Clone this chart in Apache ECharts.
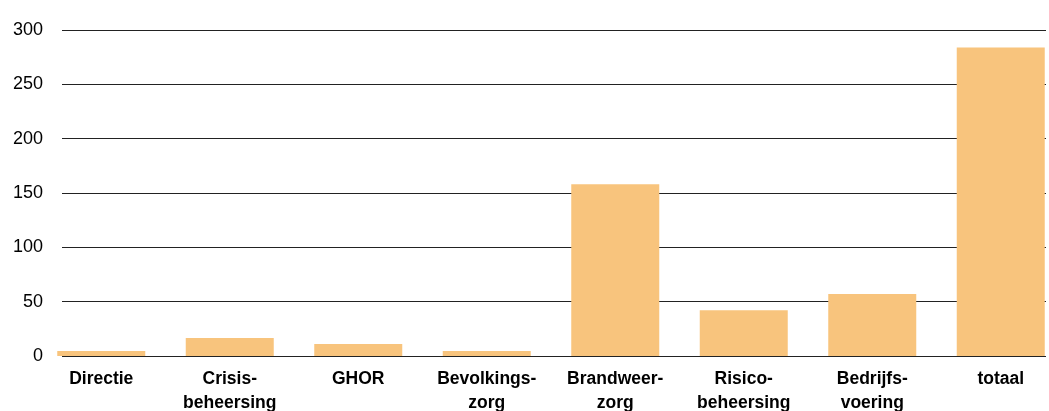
<!DOCTYPE html>
<html>
    <head>
        <meta charset="utf-8">
        <title>ECharts</title>
        <script src="https://cdn.jsdelivr.net/npm/echarts@6/dist/echarts.min.js"></script>
    </head>
    <body style="margin:0">
        <div id="main" style="width:1049px;height:411px;"></div>
        <script type="text/javascript">
            var categories = ['Directie', 'Crisis-\nbeheersing', 'GHOR', 'Bevolkings-\nzorg', 'Brandweer-\nzorg', 'Risico-\nbeheersing', 'Bedrijfs-\nvoering', 'totaal'];
            var values = [4.5, 16.5, 11, 4.5, 158, 42, 57, 284];
            var yTicks = [0, 50, 100, 150, 200, 250, 300];

            var myChart = echarts.init(document.getElementById('main'));
            myChart.setOption({
                animation: false,
                // grid 0: gridlines + y labels, grid 1: the bars
                grid: [
                    { left: 62, right: 3, top: 30, bottom: 55, outerBoundsMode: 'none', containLabel: false },
                    { left: 37, width: 1028, top: 30, bottom: 55, outerBoundsMode: 'none', containLabel: false }
                ],
                xAxis: [
                    { gridIndex: 0, type: 'category', data: categories, show: false },
                    {
                        gridIndex: 1, type: 'category', data: categories,
                        axisLine: { show: false },
                        axisTick: { show: false },
                        axisLabel: {
                            interval: 0, margin: 11, color: '#000',
                            fontFamily: 'Liberation Sans, Arial', fontWeight: 'bold',
                            fontSize: 17.5, lineHeight: 24
                        }
                    }
                ],
                yAxis: [
                    {
                        gridIndex: 0, type: 'value', min: yTicks[0], max: yTicks[yTicks.length - 1], interval: 50,
                        axisLine: { show: false },
                        axisTick: { show: false },
                        axisLabel: { margin: 19, color: '#000', fontFamily: 'Liberation Sans, Arial', fontSize: 18 },
                        splitLine: { lineStyle: { color: '#222', width: 1 } }
                    },
                    {
                        gridIndex: 1, type: 'value', min: yTicks[0], max: yTicks[yTicks.length - 1], interval: 50,
                        show: false
                    }
                ],
                series: [{
                    type: 'bar',
                    xAxisIndex: 1,
                    yAxisIndex: 1,
                    barWidth: 88,
                    itemStyle: { color: '#F8C47D' },
                    data: values
                }]
            });
        </script>
    </body>
</html>
